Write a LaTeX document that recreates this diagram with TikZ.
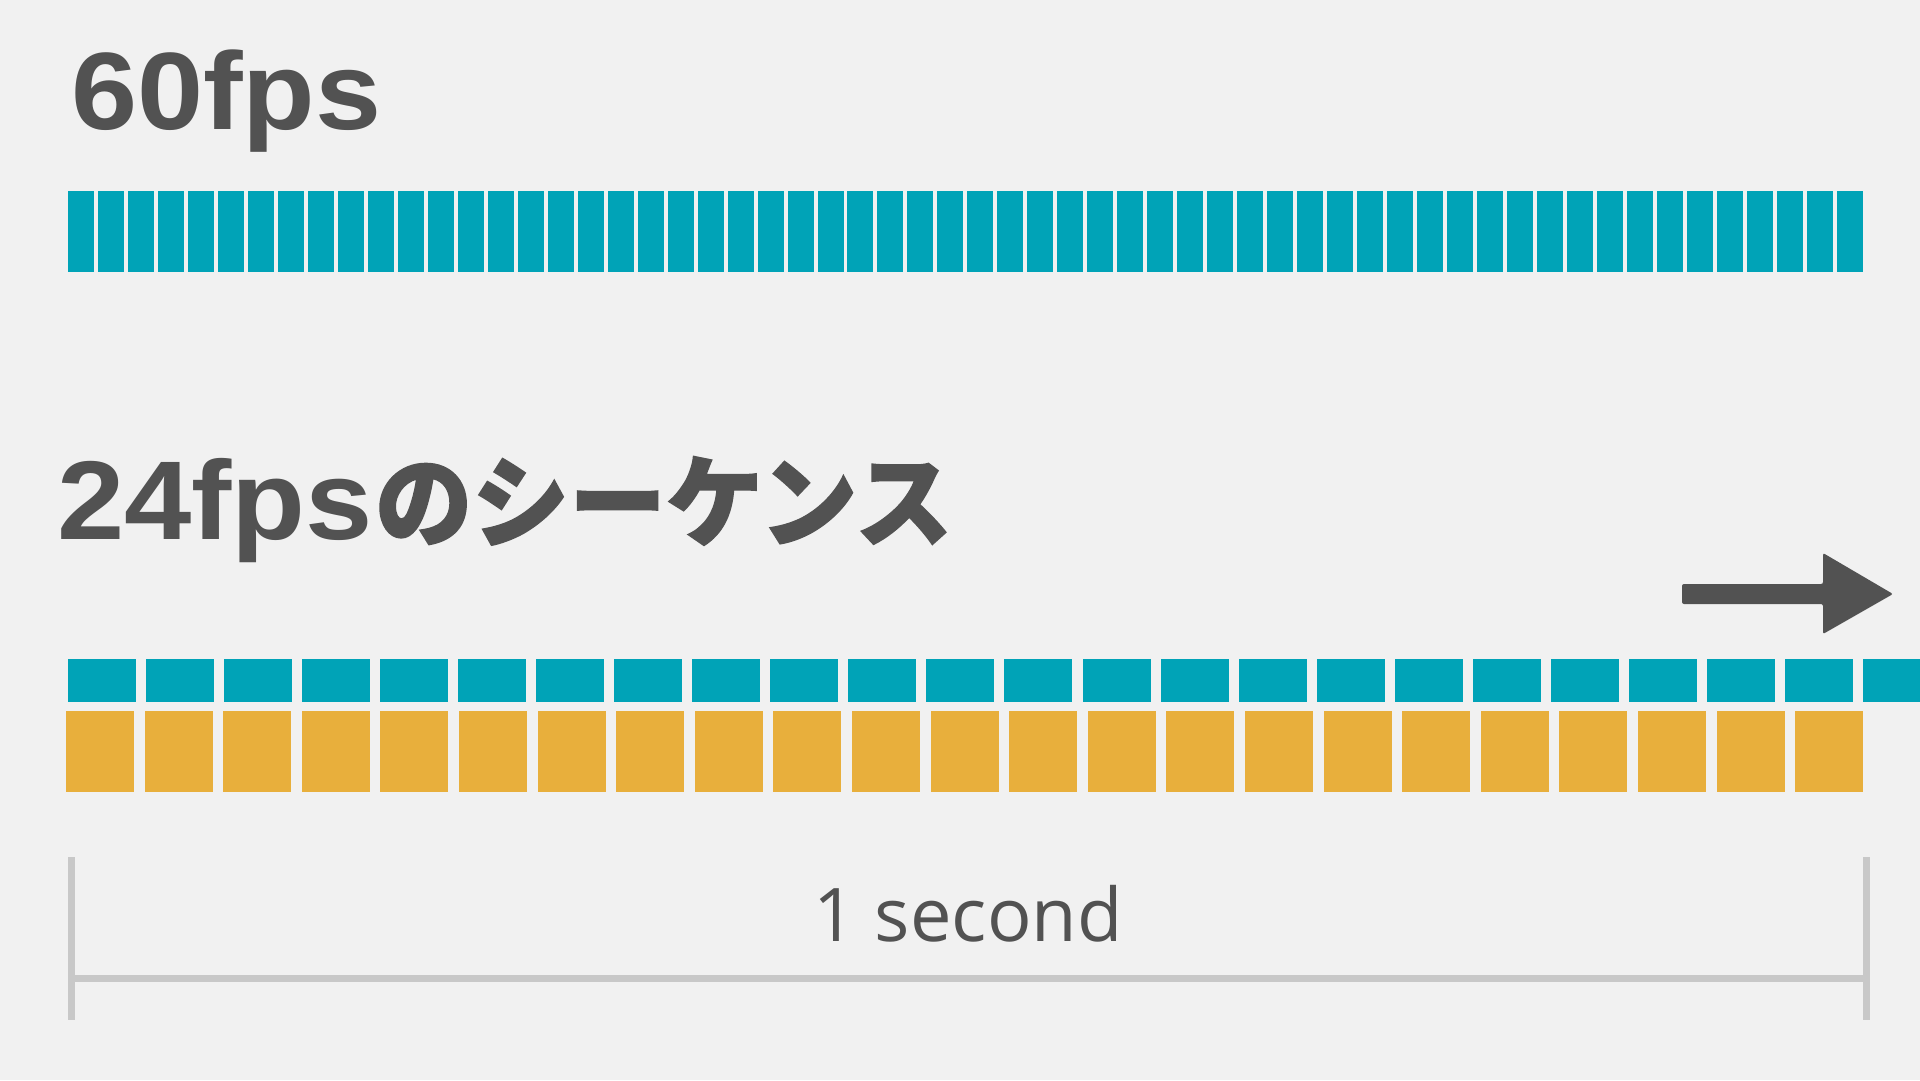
\documentclass[tikz,border=0pt]{standalone}
\usepackage{fontspec}
\setmainfont{Liberation Sans}
\newfontfamily\headfont[FakeStretch=1.08]{Liberation Sans}
\newfontfamily\secfont{Open Sans}
\newfontfamily\jpfont[FakeStretch=0.97, BoldFeatures={FakeBold=1.5}]{Noto Sans CJK JP}
\definecolor{bgc}{HTML}{F1F1F1}
\definecolor{tealc}{HTML}{00A3B7}
\definecolor{goldc}{HTML}{E8AF3C}
\definecolor{darkc}{HTML}{525252}
\definecolor{brkc}{HTML}{C8C8C8}
\tikzset{
  title/.style={anchor=base west, inner sep=0pt, text=darkc},
  tealbar/.style={fill=tealc},
  goldbar/.style={fill=goldc},
  brk/.style={draw=brkc, line width=7pt},
}
\begin{document}
\begin{tikzpicture}[x=1pt,y=-1pt]
\fill[bgc] (0,0) rectangle (1920,1080);
\useasboundingbox (0,0) rectangle (1920,1080);
\clip (0,0) rectangle (1920,1080);
% 60fps
\node[title, font=\headfont\bfseries\fontsize{110}{120}\selectfont] (t60) at (71,129) {60fps};
\foreach \i in {0,...,59}
  \fill[tealbar] ({68+29.98*\i},191) rectangle ++(26,81);
% 24fps
\node[title, font=\headfont\bfseries\fontsize{112}{120}\selectfont] (t24) at (57,539) {24fps\hspace{2pt}{\jpfont\bfseries\fontsize{100}{110}\selectfont のシーケンス}};
\foreach \i in {0,...,23}
  \fill[tealbar] ({68+78.04*\i},659) rectangle ++(68,43);
\foreach \i in {0,...,22}
  \fill[goldbar] ({66+78.6*\i},711) rectangle ++(68,81);
% arrow
\fill[darkc, rounded corners=2pt] (1682,584) -- (1823,584) -- (1823,553) -- (1893,594) -- (1823,634) -- (1823,604) -- (1682,604) -- cycle;
% bracket
\coordinate (lt) at (71.5,857);
\coordinate (lb) at (71.5,1020);
\coordinate (rt) at (1866.5,857);
\coordinate (rb) at (1866.5,1020);
\coordinate (bl) at (71.5,978.5);
\coordinate (br) at (1866.5,978.5);
\draw[brk] (lt) -- (lb);
\draw[brk] (rt) -- (rb);
\draw[brk] (bl) -- (br);
\node[anchor=base, inner sep=0pt, text=darkc, font=\secfont\fontsize{74}{80}\selectfont] (sec) at (968,941) {1 second};
\end{tikzpicture}
\end{document}
